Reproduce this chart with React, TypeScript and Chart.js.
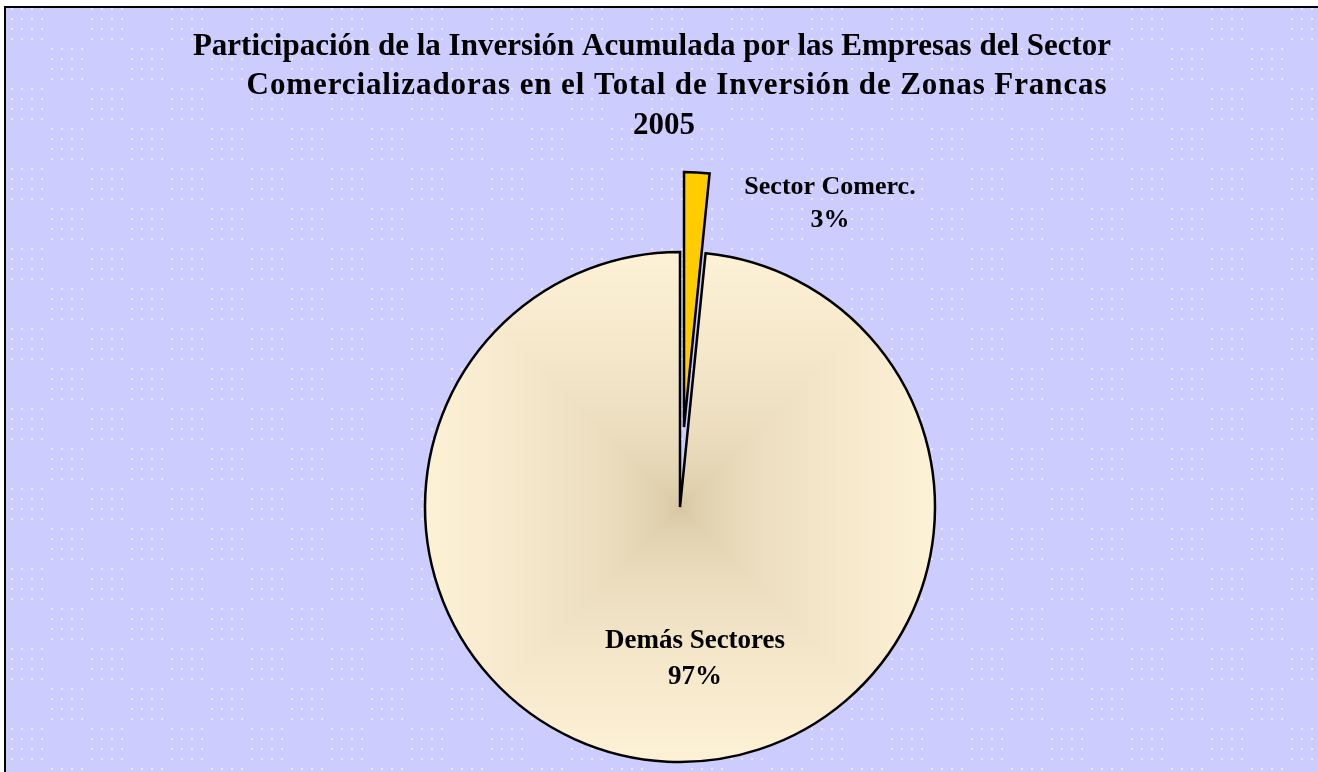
import React, { useEffect, useRef } from "react";
import { Chart, registerables } from "chart.js";

Chart.register(...registerables);

// ---- data ----
const categories = ["Sector Comerc.", "Demás Sectores"];
const shares = [1.6, 98.4];
const shareLabels = ["3%", "97%"];
const titleLines = [
  "Participación de la Inversión Acumulada por las Empresas del Sector",
  "Comercializadoras en el Total de Inversión de Zonas Francas",
  "2005",
];

const W = 1318;
const H = 772;
const SERIF = '"Liberation Serif", "Times New Roman", serif';

let gradCache: { key: string; pat: CanvasPattern | null } | null = null;

function squareGradient(chart: any): CanvasPattern | string {
  const area = chart.chartArea;
  if (!area) return "#F6ECD2";
  const cx = Math.round((area.left + area.right) / 2);
  const cy = Math.round((area.top + area.bottom) / 2);
  const R = 255;
  const key = `${cx},${cy},${chart.width},${chart.height}`;
  if (gradCache && gradCache.key === key && gradCache.pat) return gradCache.pat;
  const off = document.createElement("canvas");
  off.width = chart.width;
  off.height = chart.height;
  const octx = off.getContext("2d")!;
  const img = octx.createImageData(off.width, off.height);
  const c0 = [210, 193, 156];
  const c1 = [253, 241, 214];
  for (let y = 0; y < off.height; y++) {
    for (let x = 0; x < off.width; x++) {
      const t = Math.min(1, Math.max(Math.abs(x - cx), Math.abs(y - cy)) / R);
      const f = Math.pow(t, 0.45);
      const i = (y * off.width + x) * 4;
      img.data[i] = c0[0] + (c1[0] - c0[0]) * f;
      img.data[i + 1] = c0[1] + (c1[1] - c0[1]) * f;
      img.data[i + 2] = c0[2] + (c1[2] - c0[2]) * f;
      img.data[i + 3] = 255;
    }
  }
  octx.putImageData(img, 0, 0);
  const pat = chart.ctx.createPattern(off, "no-repeat");
  gradCache = { key, pat };
  return pat || "#F6ECD2";
}

const backgroundPlugin = {
  id: "bgPattern",
  beforeDraw(chart: any) {
    const ctx = chart.ctx as CanvasRenderingContext2D;
    ctx.save();
    ctx.fillStyle = "#FFFFFF";
    ctx.fillRect(0, 0, chart.width, chart.height);
    ctx.fillStyle = "#CCCCFF";
    ctx.fillRect(5, 7, chart.width - 5, chart.height - 7);
    ctx.fillStyle = "rgba(236,236,255,0.9)";
    for (let y = 8; y < chart.height; y += 10) {
      for (let x = 11; x < chart.width; x += 10) {
        const bx = Math.floor((x - 11) / 40);
        const by = Math.floor((y - 8) / 40);
        if ((bx + by) % 2 === 0) ctx.fillRect(x, y, 2, 2);
      }
    }
    ctx.fillStyle = "#000000";
    ctx.fillRect(4, 6, chart.width - 4, 2);
    ctx.fillRect(4, 6, 2, chart.height - 6);
    ctx.restore();
  },
};

const explodePlugin = {
  id: "explode",
  beforeDatasetDraw(chart: any, args: any) {
    const ctx = chart.ctx as CanvasRenderingContext2D;
    const meta = args.meta;
    const explode = [80, 0];
    meta.data.forEach((arc: any, i: number) => {
      const mid = (arc.startAngle + arc.endAngle) / 2;
      const d = explode[i] || 0;
      ctx.save();
      ctx.translate(Math.cos(mid) * d, Math.sin(mid) * d);
      arc.draw(ctx);
      ctx.restore();
    });
    return false;
  },
};

const textPlugin = {
  id: "texts",
  afterDraw(chart: any) {
    const ctx = chart.ctx as CanvasRenderingContext2D;
    ctx.save();
    ctx.fillStyle = "#000000";
    ctx.textAlign = "center";
    ctx.textBaseline = "middle";
    ctx.font = `bold 31px ${SERIF}`;
    const tx = [652, 677, 664];
    const ty = [47, 86, 126];
    const ls = ["0px", "0.9px", "0px"];
    titleLines.forEach((line, i) => {
      (ctx as any).letterSpacing = ls[i];
      ctx.fillText(line, tx[i], ty[i]);
    });
    (ctx as any).letterSpacing = "0px";

    const meta = chart.getDatasetMeta(0);
    const cx = meta.data[0].x;
    const cy = meta.data[0].y;
    const pos = [
      { x: cx + 150, y1: cy - 320, y2: cy - 287, size: 26 },
      { x: cx + 15, y1: cy + 134, y2: cy + 170, size: 27 },
    ];
    categories.forEach((c, i) => {
      ctx.font = `bold ${pos[i].size}px ${SERIF}`;
      ctx.fillText(c, pos[i].x, pos[i].y1);
      ctx.fillText(shareLabels[i], pos[i].x, pos[i].y2);
    });
    ctx.restore();
  },
};

export default function App() {
  const ref = useRef<HTMLCanvasElement>(null);
  useEffect(() => {
    if (!ref.current) return;
    const chart = new Chart(ref.current, {
      type: "pie",
      data: {
        labels: categories,
        datasets: [
          {
            data: shares,
            backgroundColor: (c: any) =>
              c.dataIndex === 0 ? "#FFCC00" : squareGradient(c.chart),
            borderColor: "#000000",
            borderWidth: 2.5,
            borderJoinStyle: "miter",
          } as any,
        ],
      },
      options: {
        responsive: false,
        animation: false,
        events: [],
        radius: 255,
        layout: { padding: { top: 242, bottom: 0, left: 42, right: 0 } },
        plugins: {
          legend: { display: false },
          tooltip: { enabled: false },
          title: { display: false },
        },
      } as any,
      plugins: [backgroundPlugin, explodePlugin, textPlugin],
    });
    return () => chart.destroy();
  }, []);
  return (
    <div style={{ position: "fixed", left: 0, top: 0, width: W, height: H }}>
      <canvas ref={ref} width={W} height={H} style={{ display: "block" }} />
    </div>
  );
}
